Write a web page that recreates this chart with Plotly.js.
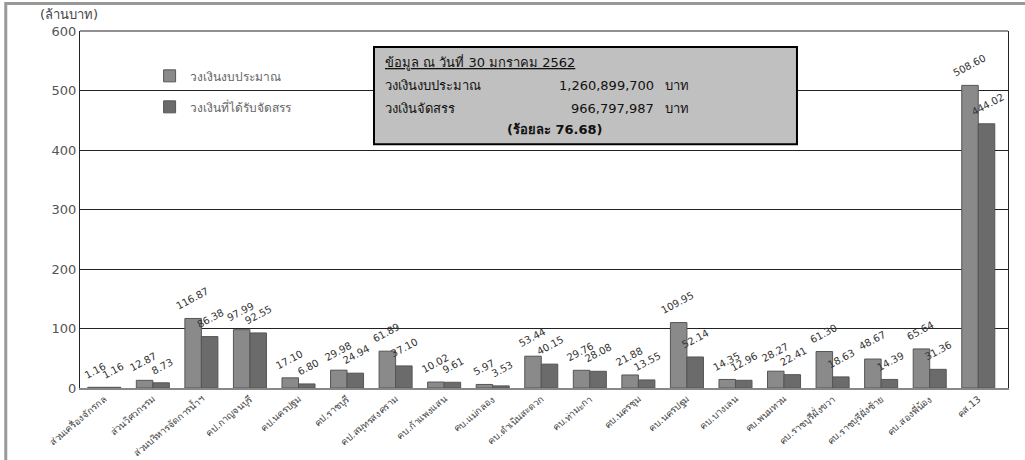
<!DOCTYPE html>
<html><head><meta charset="utf-8">
<script src="https://cdn.plot.ly/plotly-3.0.1.min.js"></script>
<style>html,body{margin:0;padding:0;background:#fff}#c{width:1025px;height:460px}</style>
</head><body><div id="c"></div>
<script>
const categories = ["ส่วนเครื่องจักรกล","ส่วนวิศวกรรม","ส่วนบริหารจัดการน้ำฯ","คป.กาญจนบุรี","คป.นครปฐม","คป.ราชบุรี","คป.สมุทรสงคราม","คบ.ก้าแพงแสน","คบ.แม่กลอง","คบ.ดำเนินสะดวก","คบ.ท่ามะกา","คบ.นครชุม","คบ.นครปฐม","คบ.บางเลน","คบ.พนมทวน","คบ.ราชบุรีฝั่งขวา","คบ.ราชบุรีฝั่งซ้าย","คบ.สองพี่น้อง","คส.13"];
const budget = [1.16,12.87,116.87,97.99,17.10,29.98,61.89,10.02,5.97,53.44,29.76,21.88,109.95,14.35,28.27,61.30,48.67,65.64,508.60];
const allocated = [1.16,8.73,86.38,92.55,6.80,24.94,37.10,9.61,3.53,40.15,28.08,13.55,52.14,12.96,22.41,18.63,14.39,31.36,444.02];
const seriesNames = ["วงเงินงบประมาณ","วงเงินที่ได้รับจัดสรร"];
const yTicks = [0,100,200,300,400,500,600];

const FONT = "Tahoma, 'DejaVu Sans', 'Noto Sans', sans-serif";
const mk = (name, vals, color, group) => ({
  type:'bar', name:name, x:categories, y:vals, legendgroup:group,
  marker:{color:color, line:{color:'#555', width:1}},
  hoverinfo:'x+y'
});
const data = [mk(seriesNames[0], budget, '#8a8a8a','a'), mk(seriesNames[1], allocated, '#6b6b6b','b')];

const valueLabels = [];
[[budget,-9],[allocated,9]].forEach(([vals,shift])=>{
  vals.forEach((v,i)=>{
    valueLabels.push({xref:'x', yref:'y', x:categories[i], y:v, xshift:shift, yshift:4,
      xanchor:'center', yanchor:'bottom', showarrow:false, textangle:-28,
      text:v.toFixed(2), font:{size:10, color:'#333', family:FONT}});
  });
});

const layout = {
  width:1025, height:460,
  margin:{l:80, r:17, t:31, b:72},
  paper_bgcolor:'#fff', plot_bgcolor:'#fff',
  font:{family:FONT, color:'#555'},
  barmode:'group', bargap:0.32, bargroupgap:0,
  showlegend:true,
  legend:{x:0.075, y:0.915, xanchor:'left', yanchor:'top', bgcolor:'rgba(0,0,0,0)',
    font:{size:12, color:'#666', family:FONT}, tracegroupgap:12, itemwidth:30},
  xaxis:{type:'category', tickangle:-40, tickfont:{size:9.5, color:'#444', family:FONT},
    showline:true, linecolor:'#888', linewidth:2, ticks:'', automargin:false},
  yaxis:{range:[0,600], tickvals:yTicks, tickfont:{size:13, color:'#555', family:FONT},
    showgrid:true, gridcolor:'#222', gridwidth:1, showline:true, linecolor:'#222', mirror:true,
    zeroline:false, ticks:'', automargin:false},
  shapes:[
    {type:'rect', xref:'paper', yref:'paper', x0:-0.08, x1:1.03, y0:-0.25, y1:1.077,
     line:{color:'#999', width:3}, fillcolor:'rgba(0,0,0,0)', layer:'below'},
    {type:'line', xref:'paper', yref:'paper', x0:0, x1:1, y0:1, y1:1, line:{color:'#222', width:1}},
    {type:'rect', xref:'paper', yref:'paper', x0:0.3168, x1:0.7726, y0:0.683, y1:0.955,
     line:{color:'#000', width:2}, fillcolor:'#c0c0c0', layer:'above'}
  ],
  annotations: valueLabels.concat([
    {xref:'paper', yref:'paper', x:-0.045, y:1.045, xanchor:'left', yanchor:'middle', showarrow:false,
     text:'(ล้านบาท)', font:{size:13, color:'#444', family:FONT}},
    {xref:'paper', yref:'paper', x:0.327, y:0.913, xanchor:'left', yanchor:'middle', showarrow:false,
     text:'<u>ข้อมูล ณ วันที่ 30 มกราคม 2562</u>', font:{size:13, color:'#111', family:FONT}},
    {xref:'paper', yref:'paper', x:0.327, y:0.846, xanchor:'left', yanchor:'middle', showarrow:false,
     text:'วงเงินงบประมาณ', font:{size:13, color:'#111', family:FONT}},
    {xref:'paper', yref:'paper', x:0.621, y:0.846, xanchor:'right', yanchor:'middle', showarrow:false,
     text:'1,260,899,700', font:{size:13, color:'#111', family:FONT}},
    {xref:'paper', yref:'paper', x:0.628, y:0.846, xanchor:'left', yanchor:'middle', showarrow:false,
     text:'บาท', font:{size:13, color:'#111', family:FONT}},
    {xref:'paper', yref:'paper', x:0.327, y:0.784, xanchor:'left', yanchor:'middle', showarrow:false,
     text:'วงเงินจัดสรร', font:{size:13, color:'#111', family:FONT}},
    {xref:'paper', yref:'paper', x:0.621, y:0.784, xanchor:'right', yanchor:'middle', showarrow:false,
     text:'966,797,987', font:{size:13, color:'#111', family:FONT}},
    {xref:'paper', yref:'paper', x:0.628, y:0.784, xanchor:'left', yanchor:'middle', showarrow:false,
     text:'บาท', font:{size:13, color:'#111', family:FONT}},
    {xref:'paper', yref:'paper', x:0.512, y:0.723, xanchor:'center', yanchor:'middle', showarrow:false,
     text:'<b>(ร้อยละ 76.68)</b>', font:{size:13, color:'#111', family:FONT}}
  ])
};
Plotly.newPlot('c', data, layout, {staticPlot:true, displayModeBar:false});
</script></body></html>
